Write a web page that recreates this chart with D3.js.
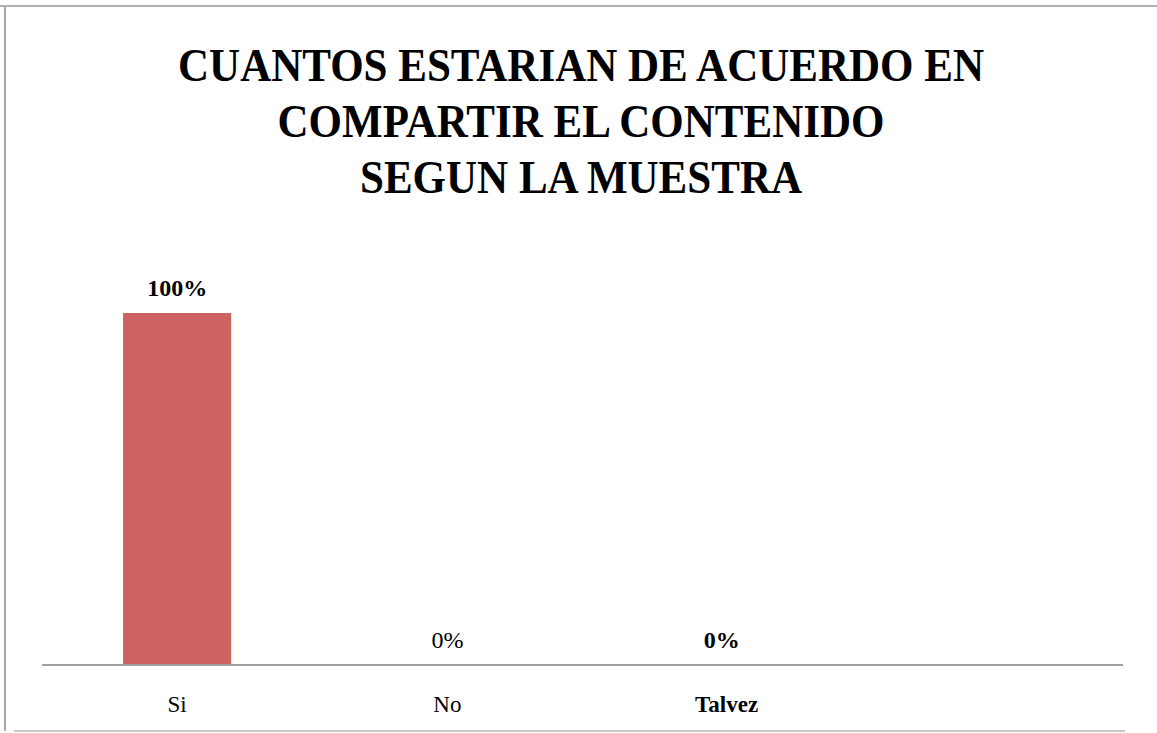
<!DOCTYPE html>
<html>
<head>
<meta charset="utf-8">
<script src="https://cdn.jsdelivr.net/npm/d3@7"></script>
<style>
  body { margin: 0; background: #fff; }
  svg { display: block; }
</style>
</head>
<body>
<div id="chart"></div>
<script>
// data
var categories = ["Si", "No", "Talvez", ""];
var values = [100, 0, 0, null];
var valueLabels = ["100%", "0%", "0%", ""];
var titleLines = ["CUANTOS ESTARIAN DE ACUERDO EN", "COMPARTIR EL CONTENIDO", "SEGUN LA MUESTRA"];
var boldLabel = [true, false, true, false];

var width = 1157, height = 733;
var margin = { left: 42, right: 34, top: 313, bottom: 68 };
var font = "Liberation Serif, DejaVu Serif, serif";

var svg = d3.select("#chart").append("svg")
    .attr("width", width)
    .attr("height", height);

// frame
svg.append("line").attr("x1", 0).attr("x2", width).attr("y1", 6).attr("y2", 6)
    .attr("stroke", "#b0b0b0").attr("stroke-width", 2);
svg.append("line").attr("x1", 5).attr("x2", 5).attr("y1", 6).attr("y2", 731)
    .attr("stroke", "#a8a8a8").attr("stroke-width", 2);
svg.append("line").attr("x1", 14).attr("x2", 1125).attr("y1", 731).attr("y2", 731)
    .attr("stroke", "#c8c8c8").attr("stroke-width", 2);

// title (slightly condensed, like the original font)
var title = svg.append("g")
    .attr("transform", "translate(581,0) scale(0.935,1)");
title.selectAll("text")
    .data(titleLines)
    .enter().append("text")
    .attr("text-anchor", "middle")
    .attr("font-family", font)
    .attr("font-weight", "bold")
    .attr("font-size", 46)
    .attr("fill", "#000")
    .attr("x", 0)
    .attr("y", function(d, i) { return 81 + i * 56; })
    .text(function(d) { return d; });

var x = d3.scaleBand()
    .domain(d3.range(categories.length))
    .range([margin.left, width - margin.right])
    .paddingInner(0.6)
    .paddingOuter(0.3);

var y = d3.scaleLinear()
    .domain([0, 100])
    .range([height - margin.bottom, margin.top]);

// bars
svg.selectAll(".bar")
    .data(values.filter(function(d) { return d != null; }))
    .enter().append("rect")
    .attr("class", "bar")
    .attr("x", function(d, i) { return x(i); })
    .attr("width", x.bandwidth())
    .attr("y", function(d) { return y(d); })
    .attr("height", function(d) { return y(0) - y(d); })
    .attr("fill", "#cd6360");

// baseline
svg.append("line")
    .attr("x1", margin.left).attr("x2", width - margin.right)
    .attr("y1", y(0)).attr("y2", y(0))
    .attr("stroke", "#a0a0a0").attr("stroke-width", 2);

// value labels
svg.selectAll(".vlabel")
    .data(values)
    .enter().append("text")
    .attr("class", "vlabel")
    .attr("text-anchor", "middle")
    .attr("font-family", font)
    .attr("font-size", 24)
    .attr("font-weight", function(d, i) { return boldLabel[i] ? "bold" : "normal"; })
    .attr("x", function(d, i) { return x(i) + x.bandwidth() / 2 + (i == 2 ? 4 : 0); })
    .attr("y", function(d) { return y(d || 0) - 17; })
    .text(function(d, i) { return valueLabels[i]; });

// axis labels
var axis = d3.axisBottom(x)
    .tickSize(0)
    .tickFormat(function(i) { return categories[i]; });

var gx = svg.append("g")
    .attr("transform", "translate(0," + y(0) + ")")
    .call(axis);
gx.select(".domain").remove();
gx.selectAll("text")
    .attr("font-family", font)
    .attr("font-size", 23)
    .attr("fill", "#000")
    .attr("y", 47)
    .attr("dy", 0)
    .attr("font-weight", function(i) { return i == 2 ? "bold" : "normal"; })
    .attr("dx", function(i) { return i == 2 ? 9 : 0; });
</script>
</body>
</html>
